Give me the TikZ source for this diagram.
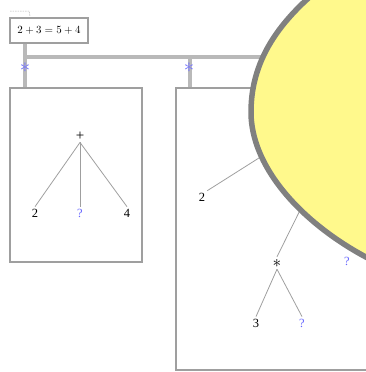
\documentclass[tikz,border=0pt]{standalone}
\usepackage{fontspec}
\setmainfont{Liberation Serif}
\begin{document}
\begin{tikzpicture}[x=1pt,y=-1pt,
  panel/.style={draw=gray!75,line width=1.6pt,inner sep=0pt},
  bus/.style={draw=gray!55,line width=3.5pt},
  edge/.style={draw=gray!75,line width=0.8pt},
  lab/.style={font=\fontsize{12.5}{13}\selectfont,inner sep=2pt},
  hole/.style={lab,text=blue!60},
  bluemark/.style={text=blue!55,font=\fontsize{22}{22}\selectfont,inner sep=0pt},
  bubble/.style={draw=gray,fill=yellow!45,line width=5.5pt,line join=round}]
\useasboundingbox (0,0) rectangle (366,372);
% small dashed bracket
\coordinate (d1) at (10,11);
\coordinate (d2) at (29,11);
\coordinate (d3) at (30,16);
\draw[gray!60,line width=0.5pt,dash pattern=on 1.5pt off 1pt] (d1) -- (d2) -- (d3);
% label
\node[panel,minimum width=78,minimum height=25,font=\fontsize{10.5}{12}\selectfont] (lbl) at (49,30.5) {$2+3=5+4$};
% panels
\node[panel,minimum width=132,minimum height=174] (box1) at (76,175) {};
\node[panel,minimum width=224,minimum height=282] (box2) at (288,229) {};
% bus
\coordinate (j1) at (25,57);
\coordinate (j2) at (190,57);
\coordinate (j3) at (290,57);
\draw[bus] (lbl.south -| j1) -- (box1.north -| j1);
\draw[bus] (j1) -- (j3);
\draw[bus] (j2) -- (box2.north -| j2);
\node[bluemark] (m1) at (25,68) {$\ast$};
\node[bluemark] (m2) at (189,68) {$\ast$};
% left tree
\node[lab,font=\fontsize{15}{15}\selectfont] (p) at (80,136) {+};
\node[lab] (a) at (35,213) {2};
\node[hole] (b) at (80,213) {?};
\node[lab] (c) at (127,213) {4};
\draw[edge] (p.south) -- (a.north);
\draw[edge] (p.south) -- (b.north);
\draw[edge] (p.south) -- (c.north);
% right tree
\coordinate (r) at (300,132);
\coordinate (s) at (316,178);
\node[lab] (r2) at (202,197) {2};
\node[lab,font=\fontsize{16}{16}\selectfont\bfseries] (st) at (277,263) {$\ast$};
\node[lab] (r3) at (256,323) {3};
\node[hole] (rq) at (302,323) {?};
\node[hole] (q2) at (347,261) {?};
\draw[edge] (r2.north east) -- (r);
\draw[edge] (st.north) -- (s);
\draw[edge] (st.south) -- (r3.north);
\draw[edge] (st.south) -- (rq.north);
% bubble
\draw[bubble] (330,-20) .. controls (285,15) and (251,55) .. (251,112)
  .. controls (251,182) and (332,252) .. (420,280)
  -- (470,280) -- (470,-20) -- cycle;
\end{tikzpicture}
\end{document}
